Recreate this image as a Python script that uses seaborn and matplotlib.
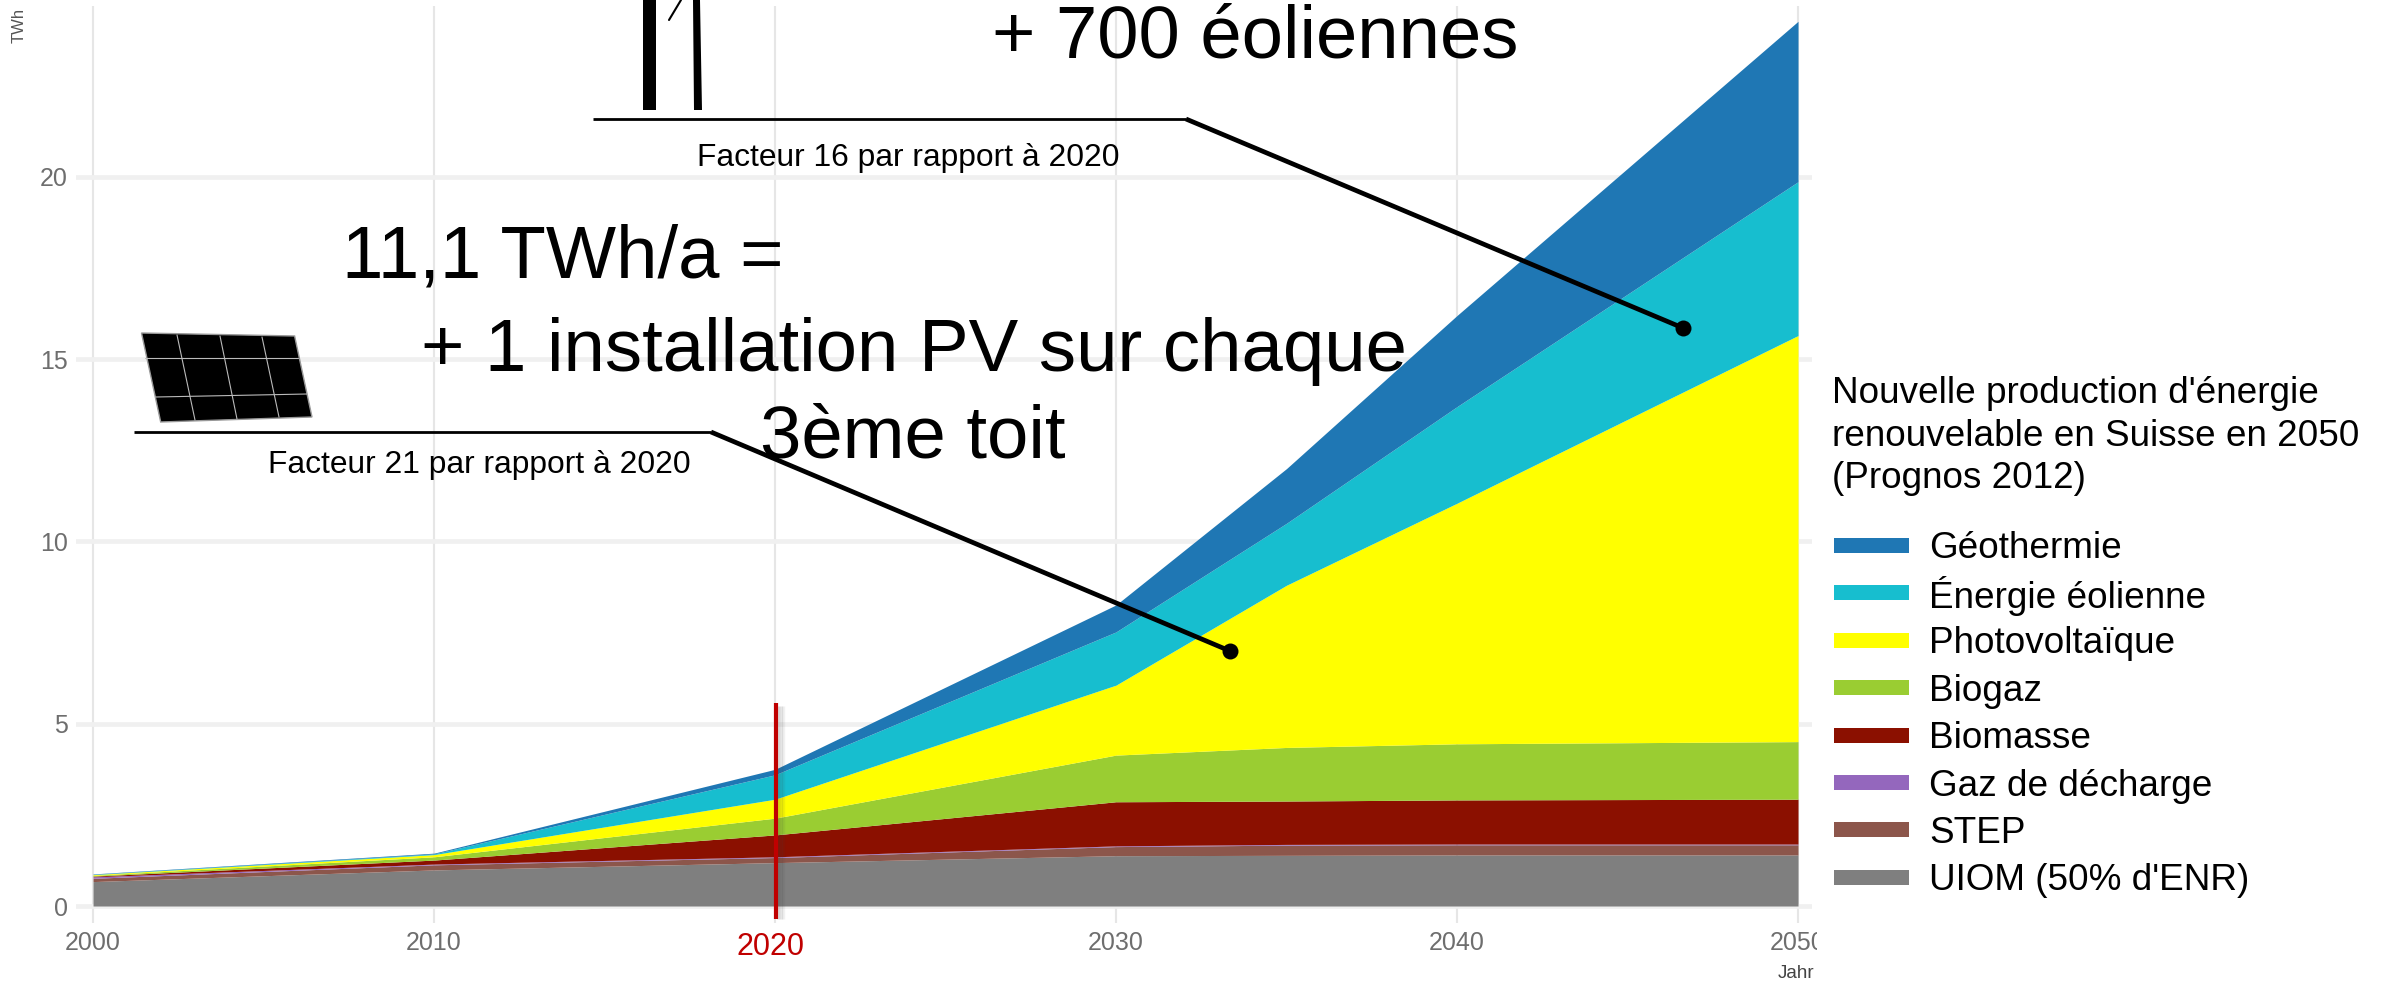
import matplotlib
matplotlib.use("Agg")
import matplotlib.pyplot as plt
from matplotlib.patches import Polygon, Rectangle
import seaborn as sns

W, H = 2392, 984

years = [2000, 2010, 2020, 2030, 2035, 2040, 2050]
uiom = [0.67, 0.99, 1.19, 1.38, 1.39, 1.40, 1.40]
step = [0.09, 0.14, 0.14, 0.25, 0.28, 0.28, 0.28]
gaz = [0.04, 0.02, 0.02, 0.02, 0.02, 0.02, 0.02]
biomasse = [0.02, 0.11, 0.60, 1.21, 1.19, 1.21, 1.23]
biogaz = [0.02, 0.09, 0.46, 1.28, 1.47, 1.54, 1.58]
pv = [0.02, 0.06, 0.52, 1.92, 4.45, 6.60, 11.14]
eolien = [0.01, 0.02, 0.67, 1.46, 1.70, 2.65, 4.22]
geo = [0.01, 0.02, 0.15, 0.74, 1.50, 2.50, 4.40]

labels = ["UIOM (50% d'ENR)", "STEP", "Gaz de décharge", "Biomasse", "Biogaz",
          "Photovoltaïque", "Énergie éolienne", "Géothermie"]
colors = ["#7f7f7f", "#8c564b", "#9467bd", "#8b1000", "#9acd32", "#ffff00", "#17becf", "#1f77b4"]

xticks = [2000, 2010, 2020, 2030, 2040, 2050]
xticklabels = ["2000", "2010", "", "2030", "2040", "2050"]
yticks = [0, 5, 10, 15, 20]
highlight = 2020

sns.set_theme(style="whitegrid")
plt.rcParams["font.family"] = ["Liberation Sans"]
palette = sns.color_palette(colors)

fig = plt.figure(figsize=(W / 100, H / 100), dpi=100, facecolor="white")
# axes box in pixels
ax = fig.add_axes([76 / W, 1 - 923 / H, (1812 - 76) / W, (923 - 6) / H])
ax.stackplot(years, uiom, step, gaz, biomasse, biogaz, pv, eolien, geo,
             colors=palette, linewidth=0, zorder=2)
ax.set_xlim(1999.5, 2050.41)
ax.set_ylim(-0.466, 24.69)
ax.set_xticks(xticks)
ax.set_xticklabels(xticklabels)
ax.set_yticks(yticks)
ax.grid(axis="y", color="#f0f0f0", lw=3.4)
ax.grid(axis="x", color="#e6e6e6", lw=1.5)
ax.set_axisbelow(True)
sns.despine(ax=ax, left=True, bottom=True)
ax.tick_params(length=0, labelsize=18, labelcolor="#6e6e6e", pad=6)

# red marker for 2020, with its soft shadow
for off, a in [(0.24, 0.07), (0.17, 0.12), (0.10, 0.18)]:
    ax.vlines(highlight + off, -0.36, 5.5, color="#404040", alpha=a, lw=2.5, zorder=3)
ax.vlines(highlight + 0.03, -0.36, 5.57, color="#c00000", lw=3, zorder=4)

# hides the end of the last tick label, as in the original
fig.add_artist(Rectangle((1817 / W, 0), 1 - 1817 / W, 1, transform=fig.transFigure,
                         color="white", lw=0, zorder=1))

# annotations, in pixel coordinates
over = fig.add_axes([0, 0, 1, 1], zorder=3)
over.set_xlim(0, W)
over.set_ylim(H, 0)
over.axis("off")
over.patch.set_alpha(0)

rule = dict(color="black", lw=2.0, solid_capstyle="butt")
diag = dict(color="black", lw=3.4, solid_capstyle="butt")
over.plot([593, 1186], [119, 119], **rule)
over.plot([134, 711], [432, 432], **rule)
over.plot([1186, 1683], [119, 328], **diag)
over.plot([711, 1230], [432, 651], **diag)
over.plot([1683, 1230], [328, 651], "o", color="black", ms=11.5, mew=0)

big = dict(fontsize=53.6, color="black", va="center", ha="left")
over.text(992, 38, "+ 700 éoliennes", **big)
over.text(342, 258, "11,1 TWh/a =", **big)
over.text(421, 351, "+ 1 installation PV sur chaque", **big)
over.text(760, 438, "3ème toit", **big)
small = dict(fontsize=22.9, color="black", va="center", ha="left")
over.text(697, 158, "Facteur 16 par rapport à 2020", **small)
over.text(268, 465, "Facteur 21 par rapport à 2020", **small)

over.text(770, 947, str(highlight), fontsize=22, color="#c00000", ha="center", va="center")
over.text(1796, 973, "Jahr", fontsize=13.5, color="#444444", ha="center", va="center")
over.text(19, 25, "TWh", fontsize=12, color="#555555", rotation=90, ha="center", va="center")

# wind turbines, cut by the top edge
over.add_patch(Polygon([[643, 110], [656, 110], [656, 0], [643, 0]], color="black", lw=0))
over.add_patch(Polygon([[694, 110], [702, 110], [700, 0], [693, 0]], color="black", lw=0))
over.plot([669, 681], [20, 0], color="black", lw=1.5)

# solar panel
over.add_patch(Polygon([[141.5, 333], [294.6, 336], [312, 417], [160.7, 422]],
                       facecolor="black", edgecolor="#999999", lw=1))
for x0, y0, x1, y1 in [(145, 358, 298, 358), (156, 397, 307, 394),
                       (177, 335, 195, 420), (220, 336, 237, 419), (262, 337, 279, 417)]:
    over.plot([x0, x1], [y0, y1], color="#bbbbbb", lw=0.8)

# legend, same row spacing for every entry
over.text(1832, 436, "Nouvelle production d'énergie\nrenouvelable en Suisse en 2050\n(Prognos 2012)",
          fontsize=26.6, color="black", ha="left", va="center", linespacing=1.26)
for i, (name, col) in enumerate(zip(labels[::-1], palette[::-1])):
    yc = 545 + 47.4 * i
    over.add_patch(Rectangle((1834, yc - 7), 75, 15, color=col, lw=0))
    over.text(1929, yc, name, fontsize=26.6, color="black", ha="left", va="center_baseline")

fig.savefig("out.png", dpi=100)
